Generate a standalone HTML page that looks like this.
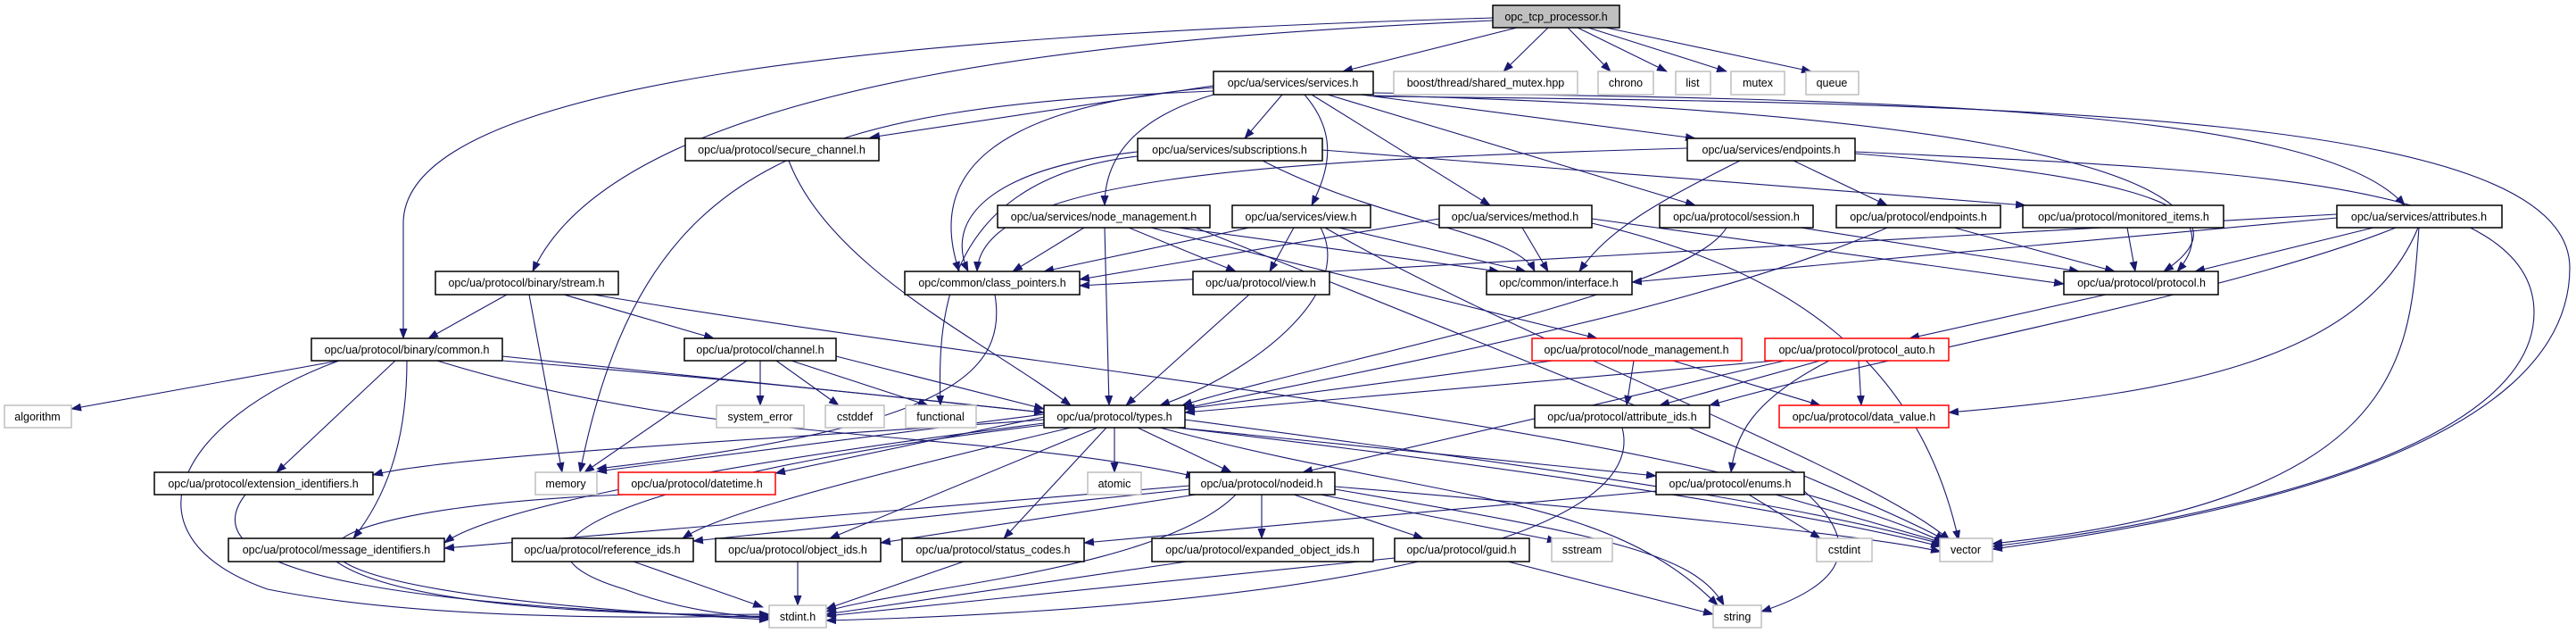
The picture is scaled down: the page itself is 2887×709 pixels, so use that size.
<!DOCTYPE html>
<html><head><meta charset="utf-8"><style>
html,body{margin:0;padding:0;background:#fff;}
svg{display:block}
text{font-family:"Liberation Sans",sans-serif;font-size:12.5px;text-anchor:middle;fill:#000}
.n{fill:#fff;stroke:#000;stroke-width:1.5}
.g{fill:#fff;stroke:#bfbfbf;stroke-width:1.5}
.r{fill:#fff;stroke:#ff0000;stroke-width:1.5}
.e{fill:none;stroke:#191970;stroke-width:1.1;marker-end:url(#a)}
</style></head><body>
<svg width="2887" height="709" viewBox="0 0 2887 709" xmlns="http://www.w3.org/2000/svg">
<defs><marker id="a" markerUnits="userSpaceOnUse" markerWidth="12" markerHeight="9" refX="11" refY="4.5" orient="auto"><path d="M0,0 L12,4.5 L0,9 z" fill="#191970"/></marker></defs>
<g>
<path class="e" d="M1700,31 L1505,80"/>
<path class="e" d="M1735,31 L1685,80"/>
<path class="e" d="M1757,31 L1805,80"/>
<path class="e" d="M1768,31 L1868,80"/>
<path class="e" d="M1780,31 L1935,80"/>
<path class="e" d="M1800,31 L2030,80"/>
<path class="e" d="M1673,23 C1300,40 700,80 597,304"/>
<path class="e" d="M1673,20 C1000,40 452,90 452,250 L452,379"/>
<path class="e" d="M1360,96 L975,154"/>
<path class="e" d="M1437,106 L1395,155"/>
<path class="e" d="M1360,106 C1280,130 1238,170 1238,230"/>
<path class="e" d="M1462,106 C1500,150 1490,190 1470,230"/>
<path class="e" d="M1470,106 L1670,230"/>
<path class="e" d="M1488,106 L1900,230"/>
<path class="e" d="M1525,106 L1900,155"/>
<path class="e" d="M1539,104 C2100,110 2600,120 2695,230"/>
<path class="e" d="M1539,107 C2100,120 2550,180 2440,304"/>
<path class="e" d="M1539,108 C2300,115 2880,130 2880,300 C2880,500 2500,580 2233,615"/>
<path class="e" d="M1360,98 C1100,120 1040,200 1075,304"/>
<path class="e" d="M1360,102 C900,120 720,180 650,529"/>
<path class="e" d="M884,180 C930,300 1100,380 1200,454"/>
<path class="e" d="M1275,170 C1100,190 1060,250 1085,304"/>
<path class="e" d="M1415,180 C1550,250 1700,260 1720,304"/>
<path class="e" d="M1482,168 L2270,230"/>
<path class="e" d="M1275,175 C1060,200 1050,350 1054,454"/>
<path class="e" d="M1891,166 C1400,180 1100,200 1095,304"/>
<path class="e" d="M1950,180 C1850,230 1800,260 1770,304"/>
<path class="e" d="M2010,180 L2115,230"/>
<path class="e" d="M2079,172 C2300,190 2550,220 2425,304"/>
<path class="e" d="M2079,170 C2500,190 2840,200 2840,350 C2840,500 2500,580 2233,612"/>
<path class="e" d="M1215,255 L1135,304"/>
<path class="e" d="M1265,255 L1385,304"/>
<path class="e" d="M1320,255 L1680,304"/>
<path class="e" d="M1290,255 L1790,379"/>
<path class="e" d="M1238,255 L1243,454"/>
<path class="e" d="M1340,255 C1700,400 2100,560 2180,605"/>
<path class="e" d="M1400,255 L1170,304"/>
<path class="e" d="M1450,255 L1423,304"/>
<path class="e" d="M1500,255 L1710,304"/>
<path class="e" d="M1480,255 C1520,330 1400,420 1300,454"/>
<path class="e" d="M1485,255 C1700,380 2100,530 2185,605"/>
<path class="e" d="M1613,245 L1210,313"/>
<path class="e" d="M1706,255 L1735,304"/>
<path class="e" d="M1784,245 L2313,318"/>
<path class="e" d="M1784,250 C2000,300 2150,400 2195,605"/>
<path class="e" d="M1935,255 C1890,330 1500,400 1325,454"/>
<path class="e" d="M2018,255 L2330,304"/>
<path class="e" d="M2115,255 C1900,350 1500,420 1325,458"/>
<path class="e" d="M2190,255 L2370,304"/>
<path class="e" d="M2384,255 L2393,304"/>
<path class="e" d="M2619,240 L1210,320"/>
<path class="e" d="M2619,244 L1829,316"/>
<path class="e" d="M2660,255 L2460,304"/>
<path class="e" d="M2685,255 C2500,330 2100,400 1916,454"/>
<path class="e" d="M2710,255 C2650,400 2450,440 2184,462"/>
<path class="e" d="M2711,255 C2700,400 2700,560 2233,609"/>
<path class="e" d="M1115,330 C1130,420 1060,480 669,525"/>
<path class="e" d="M1400,330 L1262,454"/>
<path class="e" d="M2360,330 L2140,379"/>
<path class="e" d="M568,330 L480,379"/>
<path class="e" d="M632,330 L800,379"/>
<path class="e" d="M593,330 L630,529"/>
<path class="e" d="M665,330 C1200,420 1900,480 2180,608"/>
<path class="e" d="M380,404 L80,458"/>
<path class="e" d="M443,404 L310,529"/>
<path class="e" d="M456,404 C456,500 430,560 396,603"/>
<path class="e" d="M380,404 C200,470 130,600 300,660 C500,700 800,690 862,690"/>
<path class="e" d="M563,399 L1170,462"/>
<path class="e" d="M563,404 C900,430 1800,520 2175,612"/>
<path class="e" d="M490,404 C800,500 1100,480 1340,534"/>
<path class="e" d="M852,404 L852,454"/>
<path class="e" d="M870,404 L940,454"/>
<path class="e" d="M837,404 L655,529"/>
<path class="e" d="M887,404 L1040,454"/>
<path class="e" d="M937,399 L1170,458"/>
<path class="e" d="M1740,404 L1328,458"/>
<path class="e" d="M1831,404 L1823,454"/>
<path class="e" d="M1875,404 L2040,454"/>
<path class="e" d="M1990,404 L1328,462"/>
<path class="e" d="M2040,404 L1860,454"/>
<path class="e" d="M2083,404 L2086,454"/>
<path class="e" d="M2000,404 L1460,529"/>
<path class="e" d="M2050,404 C1960,450 1945,490 1940,529"/>
<path class="e" d="M1249,479 L1249,529"/>
<path class="e" d="M1275,479 L1380,529"/>
<path class="e" d="M1320,479 L1856,533"/>
<path class="e" d="M1240,479 L1125,603"/>
<path class="e" d="M1170,470 C900,490 500,510 418,532"/>
<path class="e" d="M1170,474 C800,520 550,570 498,608"/>
<path class="e" d="M1200,479 C900,550 800,580 765,603"/>
<path class="e" d="M1230,479 L930,603"/>
<path class="e" d="M1170,467 L869,530"/>
<path class="e" d="M1170,464 L669,528"/>
<path class="e" d="M1170,476 C800,520 500,600 700,660 C780,690 850,690 862,692"/>
<path class="e" d="M1300,479 C1600,560 1800,550 1925,678"/>
<path class="e" d="M1328,470 C1700,520 2000,560 2178,610"/>
<path class="e" d="M1818,479 C1850,600 1500,680 926,695"/>
<path class="e" d="M1414,554 L1414,603"/>
<path class="e" d="M1450,554 L1595,603"/>
<path class="e" d="M1480,554 L1745,606"/>
<path class="e" d="M1496,548 C1800,600 1900,620 1932,678"/>
<path class="e" d="M1496,545 C1800,570 2100,600 2175,618"/>
<path class="e" d="M1385,554 C1300,640 1000,660 926,685"/>
<path class="e" d="M1333,544 L498,614"/>
<path class="e" d="M1333,548 L777,606"/>
<path class="e" d="M1340,554 L987,608"/>
<path class="e" d="M1960,554 L2040,603"/>
<path class="e" d="M1990,554 L2178,608"/>
<path class="e" d="M2022,550 C2100,620 2050,660 1974,685"/>
<path class="e" d="M1856,550 L1215,608"/>
<path class="e" d="M275,554 C200,650 500,680 862,692"/>
<path class="e" d="M377,629 C450,680 700,690 862,688"/>
<path class="e" d="M710,629 L855,680"/>
<path class="e" d="M894,629 L894,678"/>
<path class="e" d="M1080,629 L926,682"/>
<path class="e" d="M1330,629 L926,688"/>
<path class="e" d="M1563,625 L926,690"/>
<path class="e" d="M1690,629 L1920,688"/>
<path class="e" d="M700,554 C300,570 180,660 862,694"/>
</g>
<g>
<rect x="1673" y="6" width="142" height="25" style="fill:#bfbfbf;stroke:#000;stroke-width:1.5"/><text x="1744" y="23">opc_tcp_processor.h</text>
<rect class="n" x="1360" y="80" width="179" height="26"/><text x="1449" y="97">opc/ua/services/services.h</text>
<rect class="g" x="1562" y="80" width="206" height="26"/><text x="1665" y="97">boost/thread/shared_mutex.hpp</text>
<rect class="g" x="1791" y="80" width="62" height="26"/><text x="1822" y="97">chrono</text>
<rect class="g" x="1878" y="80" width="39" height="26"/><text x="1897" y="97">list</text>
<rect class="g" x="1940" y="80" width="60" height="26"/><text x="1970" y="97">mutex</text>
<rect class="g" x="2024" y="80" width="59" height="26"/><text x="2053" y="97">queue</text>
<rect class="n" x="768" y="155" width="217" height="25"/><text x="876" y="172">opc/ua/protocol/secure_channel.h</text>
<rect class="n" x="1275" y="155" width="207" height="25"/><text x="1378" y="172">opc/ua/services/subscriptions.h</text>
<rect class="n" x="1891" y="155" width="188" height="25"/><text x="1985" y="172">opc/ua/services/endpoints.h</text>
<rect class="n" x="1118" y="230" width="238" height="25"/><text x="1237" y="247">opc/ua/services/node_management.h</text>
<rect class="n" x="1381" y="230" width="155" height="25"/><text x="1458" y="247">opc/ua/services/view.h</text>
<rect class="n" x="1613" y="230" width="171" height="25"/><text x="1698" y="247">opc/ua/services/method.h</text>
<rect class="n" x="1860" y="230" width="172" height="25"/><text x="1946" y="247">opc/ua/protocol/session.h</text>
<rect class="n" x="2058" y="230" width="184" height="25"/><text x="2150" y="247">opc/ua/protocol/endpoints.h</text>
<rect class="n" x="2267" y="230" width="225" height="25"/><text x="2380" y="247">opc/ua/protocol/monitored_items.h</text>
<rect class="n" x="2619" y="230" width="185" height="25"/><text x="2711" y="247">opc/ua/services/attributes.h</text>
<rect class="n" x="1014" y="304" width="196" height="26"/><text x="1112" y="321">opc/common/class_pointers.h</text>
<rect class="n" x="1337" y="304" width="153" height="26"/><text x="1413" y="321">opc/ua/protocol/view.h</text>
<rect class="n" x="1666" y="304" width="163" height="26"/><text x="1747" y="321">opc/common/interface.h</text>
<rect class="n" x="2313" y="304" width="173" height="26"/><text x="2400" y="321">opc/ua/protocol/protocol.h</text>
<rect class="n" x="488" y="304" width="205" height="26"/><text x="590" y="321">opc/ua/protocol/binary/stream.h</text>
<rect class="n" x="349" y="379" width="214" height="25"/><text x="456" y="396">opc/ua/protocol/binary/common.h</text>
<rect class="n" x="767" y="379" width="170" height="25"/><text x="852" y="396">opc/ua/protocol/channel.h</text>
<rect class="r" x="1717" y="379" width="235" height="25"/><text x="1834" y="396">opc/ua/protocol/node_management.h</text>
<rect class="r" x="1978" y="379" width="206" height="25"/><text x="2081" y="396">opc/ua/protocol/protocol_auto.h</text>
<rect class="g" x="5" y="454" width="75" height="25"/><text x="42" y="471">algorithm</text>
<rect class="g" x="803" y="454" width="98" height="25"/><text x="852" y="471">system_error</text>
<rect class="g" x="925" y="454" width="66" height="25"/><text x="958" y="471">cstddef</text>
<rect class="g" x="1015" y="454" width="79" height="25"/><text x="1054" y="471">functional</text>
<rect class="n" x="1170" y="454" width="158" height="25"/><text x="1249" y="471">opc/ua/protocol/types.h</text>
<rect class="n" x="1720" y="454" width="196" height="25"/><text x="1818" y="471">opc/ua/protocol/attribute_ids.h</text>
<rect class="r" x="1994" y="454" width="190" height="25"/><text x="2089" y="471">opc/ua/protocol/data_value.h</text>
<rect class="n" x="173" y="529" width="245" height="25"/><text x="295" y="546">opc/ua/protocol/extension_identifiers.h</text>
<rect class="g" x="600" y="529" width="69" height="25"/><text x="634" y="546">memory</text>
<rect class="r" x="693" y="529" width="176" height="25"/><text x="781" y="546">opc/ua/protocol/datetime.h</text>
<rect class="g" x="1219" y="529" width="60" height="25"/><text x="1249" y="546">atomic</text>
<rect class="n" x="1333" y="529" width="163" height="25"/><text x="1414" y="546">opc/ua/protocol/nodeid.h</text>
<rect class="n" x="1856" y="529" width="166" height="25"/><text x="1939" y="546">opc/ua/protocol/enums.h</text>
<rect class="n" x="256" y="603" width="242" height="26"/><text x="377" y="620">opc/ua/protocol/message_identifiers.h</text>
<rect class="n" x="574" y="603" width="203" height="26"/><text x="675" y="620">opc/ua/protocol/reference_ids.h</text>
<rect class="n" x="802" y="603" width="185" height="26"/><text x="894" y="620">opc/ua/protocol/object_ids.h</text>
<rect class="n" x="1011" y="603" width="204" height="26"/><text x="1113" y="620">opc/ua/protocol/status_codes.h</text>
<rect class="n" x="1291" y="603" width="248" height="26"/><text x="1415" y="620">opc/ua/protocol/expanded_object_ids.h</text>
<rect class="n" x="1563" y="603" width="151" height="26"/><text x="1638" y="620">opc/ua/protocol/guid.h</text>
<rect class="g" x="1739" y="603" width="68" height="26"/><text x="1773" y="620">sstream</text>
<rect class="g" x="2036" y="603" width="62" height="26"/><text x="2067" y="620">cstdint</text>
<rect class="g" x="2174" y="603" width="59" height="26"/><text x="2203" y="620">vector</text>
<rect class="g" x="862" y="678" width="64" height="25"/><text x="894" y="695">stdint.h</text>
<rect class="g" x="1920" y="678" width="54" height="25"/><text x="1947" y="695">string</text>
</g>
</svg>
</body></html>
